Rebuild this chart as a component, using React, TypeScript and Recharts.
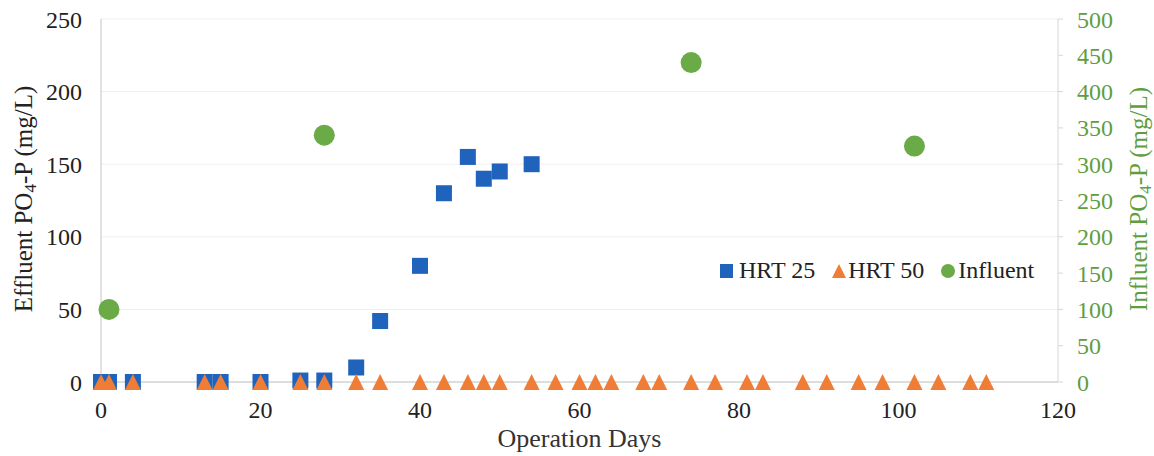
import React from "react";
import {
  ScatterChart, Scatter, XAxis, YAxis, CartesianGrid, Legend, Label,
} from "recharts";

// HRT 25 effluent (left axis)
const hrt25Days = [0, 1, 4, 13, 15, 20, 25, 28, 32, 35, 40, 43, 46, 48, 50, 54];
const hrt25Values = [0, 0, 0, 0, 0, 0, 1, 1, 10, 42, 80, 130, 155, 140, 145, 150];

// HRT 50 effluent (left axis)
const hrt50Days = [
  0, 1, 4, 13, 15, 20, 25, 28, 32, 35, 40, 43, 46, 48, 50, 54, 57, 60, 62, 64,
  68, 70, 74, 77, 81, 83, 88, 91, 95, 98, 102, 105, 109, 111,
];
const hrt50Values = [
  0, 0, 0, 0, 0, 0, 0, 0, 0, 0, 0, 0, 0, 0, 0, 0, 0, 0, 0, 0,
  0, 0, 0, 0, 0, 0, 0, 0, 0, 0, 0, 0, 0, 0,
];

// Influent (right axis)
const influentDays = [1, 28, 74, 102];
const influentValues = [100, 340, 440, 325];

const xTicks = [0, 20, 40, 60, 80, 100, 120];
const leftTicks = [0, 50, 100, 150, 200, 250];
const rightTicks = [0, 50, 100, 150, 200, 250, 300, 350, 400, 450, 500];

const BLUE = "#1f63bd";
const ORANGE = "#f07d36";
const GREEN = "#6aab48";
const GREEN_TEXT = "#5f9e3f";
const FONT = "'Liberation Serif', 'Times New Roman', serif";
const TICK_SIZE = 24;
const TITLE_SIZE = 25;

const toPoints = (days: number[], values: number[]) =>
  days.map((day, i) => ({ day, value: values[i] }));

const hrt25 = toPoints(hrt25Days, hrt25Values);
const hrt50 = toPoints(hrt50Days, hrt50Values);
const influent = toPoints(influentDays, influentValues);

const SquareShape = (props: any) => (
  <rect x={props.cx - 8} y={props.cy - 8} width={16} height={16} fill={BLUE} />
);

const TriangleShape = (props: any) => (
  <polygon
    points={`${props.cx},${props.cy - 8} ${props.cx - 8},${props.cy + 8} ${props.cx + 8},${props.cy + 8}`}
    fill={ORANGE}
  />
);

const CircleShape = (props: any) => (
  <circle cx={props.cx} cy={props.cy} r={10.5} fill={GREEN} />
);

const LegendContent = () => (
  <div style={{ display: "flex", alignItems: "center", fontFamily: FONT, fontSize: 24, color: "#222", whiteSpace: "nowrap" }}>
    <svg width={13} height={14} style={{ marginRight: 6 }}>
      <rect x={0} y={0} width={13} height={14} fill={BLUE} />
    </svg>
    <span style={{ marginRight: 17 }}>HRT 25</span>
    <svg width={14} height={14} style={{ marginRight: 2 }}>
      <polygon points="7,0 0,14 14,14" fill={ORANGE} />
    </svg>
    <span style={{ marginRight: 17 }}>HRT 50</span>
    <svg width={14} height={14} style={{ marginRight: 3 }}>
      <circle cx={7} cy={7} r={7} fill={GREEN} />
    </svg>
    <span>Influent</span>
  </div>
);

const AxisTitle = ({ x, y, prefix, suffix, color }: any) => (
  <text
    x={x}
    y={y}
    transform={`rotate(-90, ${x}, ${y})`}
    textAnchor="middle"
    dominantBaseline="central"
    fontFamily={FONT}
    fontSize={TITLE_SIZE}
    fill={color}
  >
    {prefix}
    <tspan dy={7} fontSize={17}>4</tspan>
    <tspan dy={-7}>{suffix}</tspan>
  </text>
);

export default function App() {
  return (
    <div style={{ position: "absolute", left: 0, top: 0, background: "#fff" }}>
      <ScatterChart
        width={1154}
        height={456}
        margin={{ top: 19, right: 0, bottom: 0, left: 0 }}
      >
        <CartesianGrid vertical={false} stroke="#efefef" yAxisId="left" />
        <XAxis
          type="number"
          dataKey="day"
          domain={[0, 120]}
          ticks={xTicks}
          height={74}
          axisLine={{ stroke: "#c4c4c4" }}
          tickLine={false}
          tickSize={0}
          tickMargin={19}
          tick={{ fontFamily: FONT, fontSize: TICK_SIZE, fill: "#222" }}
        >
          <Label
            value="Operation Days"
            position="insideBottom"
            offset={9}
            style={{ fontFamily: FONT, fontSize: 26, fill: "#333" }}
          />
        </XAxis>
        <YAxis
          yAxisId="left"
          type="number"
          dataKey="value"
          domain={[0, 250]}
          ticks={leftTicks}
          width={101}
          axisLine={{ stroke: "#c4c4c4" }}
          tickLine={false}
          tickSize={0}
          tickMargin={19}
          tick={{ fontFamily: FONT, fontSize: TICK_SIZE, fill: "#222" }}
        >
          <Label
            content={() => (
              <AxisTitle x={23} y={199} prefix="Effluent PO" suffix="-P (mg/L)" color="#222" />
            )}
          />
        </YAxis>
        <YAxis
          yAxisId="right"
          orientation="right"
          type="number"
          dataKey="value"
          domain={[0, 500]}
          ticks={rightTicks}
          width={96}
          axisLine={{ stroke: "#d6d6d6" }}
          tickLine={{ stroke: "#d6d6d6" }}
          tickSize={5}
          tickMargin={14}
          tick={{ fontFamily: FONT, fontSize: TICK_SIZE, fill: GREEN_TEXT, textAnchor: "start" }}
        >
          <Label
            content={() => (
              <AxisTitle x={1138} y={199} prefix="Influent PO" suffix="-P (mg/L)" color={GREEN_TEXT} />
            )}
          />
        </YAxis>
        {/* plot frame top edge */}
        <XAxis
          xAxisId="top"
          orientation="top"
          type="number"
          dataKey="day"
          domain={[0, 120]}
          height={0}
          tick={false}
          tickLine={false}
          axisLine={{ stroke: "#d6d6d6" }}
        />
        <Legend
          verticalAlign="middle"
          align="center"
          layout="horizontal"
          content={<LegendContent />}
          wrapperStyle={{ position: "absolute", left: 720, top: 257, width: "auto" }}
        />
        <Scatter
          name="HRT 25"
          data={hrt25}
          yAxisId="left"
          shape={<SquareShape />}
          isAnimationActive={false}
        />
        <Scatter
          name="HRT 50"
          data={hrt50}
          yAxisId="left"
          shape={<TriangleShape />}
          isAnimationActive={false}
        />
        <Scatter
          name="Influent"
          data={influent}
          yAxisId="right"
          shape={<CircleShape />}
          isAnimationActive={false}
        />
      </ScatterChart>
    </div>
  );
}
